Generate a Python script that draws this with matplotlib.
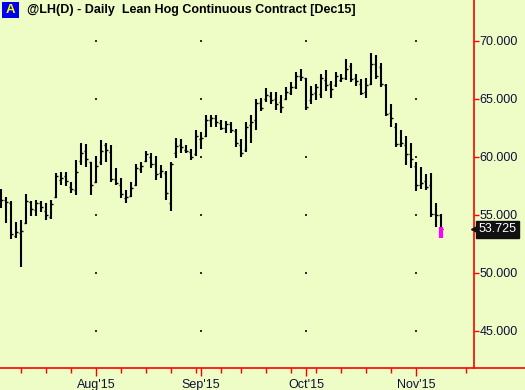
import matplotlib
matplotlib.use("Agg")
import matplotlib.pyplot as plt
from matplotlib.lines import Line2D
from matplotlib.patches import Rectangle

# ---- data (bar index 0 = first trading day of Aug 2015) ----
bar_index = list(range(-19, 70))
highs = [57.2, 56.5, 56.2, 54.4, 54.5, 56.8, 56.2, 56.3, 56.2, 56.0, 56.3, 58.6, 58.7, 58.7, 57.8, 59.7,
         61.2, 61.1, 59.5, 60.1, 61.4, 61.2, 61.0, 59.0, 58.2, 57.1, 57.8, 59.4, 59.5, 60.5, 60.3, 60.1,
         59.3, 58.8, 59.5, 61.6, 61.5, 61.0, 60.7, 62.3, 62.1, 63.6, 63.6, 63.6, 63.2, 63.1, 63.0, 62.4,
         61.5, 63.0, 63.6, 65.0, 65.1, 65.9, 65.6, 65.6, 65.3, 66.0, 66.4, 67.3, 67.6, 66.8, 66.1, 66.3,
         67.1, 67.5, 66.5, 67.3, 67.1, 68.4, 68.1, 67.1, 66.7, 66.8, 68.9, 68.8, 68.1, 66.3, 64.5, 62.9,
         62.3, 61.8, 61.2, 59.5, 59.1, 58.5, 58.6, 56.0, 55.1]
lows = [55.6, 54.3, 52.9, 53.0, 50.5, 54.2, 54.9, 54.9, 55.2, 54.5, 54.6, 56.4, 57.6, 57.5, 56.9, 56.7,
        59.3, 59.1, 56.7, 57.7, 59.3, 59.5, 57.8, 57.6, 56.4, 56.0, 56.5, 57.5, 58.6, 59.5, 59.0, 58.0,
        58.2, 56.3, 55.3, 59.9, 60.3, 60.3, 59.7, 60.1, 60.7, 61.7, 62.6, 62.6, 62.3, 62.0, 62.0, 60.8,
        60.0, 60.4, 61.2, 62.3, 63.9, 64.7, 64.5, 64.0, 63.8, 64.9, 65.3, 65.8, 66.5, 64.0, 64.5, 64.9,
        65.1, 65.7, 65.1, 66.0, 66.4, 66.6, 66.4, 66.1, 65.3, 65.1, 66.2, 66.7, 66.0, 63.5, 62.6, 60.8,
        60.8, 59.3, 59.0, 57.0, 57.2, 57.1, 54.8, 53.9, 53.0]
opens = [56.6, 56.3, 56.0, 53.2, 53.4, 54.3, 56.1, 55.4, 56.0, 55.3, 54.8, 56.5, 58.0, 58.3, 57.4, 57.1,
         59.6, 60.5, 59.5, 57.8, 59.5, 61.0, 60.4, 58.1, 57.6, 56.4, 56.6, 57.6, 58.9, 59.6, 60.0, 59.4,
         58.6, 58.6, 56.0, 60.3, 61.0, 60.6, 60.4, 60.2, 61.5, 61.8, 63.2, 63.3, 62.9, 62.5, 62.8, 62.2,
         61.0, 60.6, 62.7, 63.2, 64.6, 65.0, 65.2, 65.0, 64.7, 65.0, 65.5, 66.0, 67.0, 66.8, 64.9, 65.5,
         65.4, 66.6, 66.3, 66.2, 66.6, 66.8, 67.8, 66.8, 66.3, 65.6, 66.3, 68.0, 67.7, 66.2, 63.8, 62.6,
         61.1, 61.0, 60.2, 59.2, 57.6, 57.9, 57.6, 55.1, 55.0]
closes = [56.3, 56.1, 53.3, 53.5, 53.6, 56.2, 55.5, 56.0, 55.7, 55.0, 55.9, 58.3, 58.2, 57.9, 57.2, 58.7,
          60.3, 59.8, 57.6, 59.2, 60.5, 60.6, 58.1, 57.7, 56.8, 56.5, 57.3, 59.0, 59.2, 60.2, 59.4, 58.5,
          58.8, 56.9, 59.4, 60.9, 60.8, 60.5, 60.0, 61.8, 61.6, 63.2, 63.3, 63.0, 62.5, 62.8, 62.3, 61.2,
          60.3, 62.6, 63.0, 64.6, 64.2, 65.3, 64.9, 64.5, 64.3, 65.6, 66.0, 67.0, 66.9, 64.3, 65.4, 66.0,
          66.8, 66.2, 65.8, 67.0, 66.8, 67.6, 66.7, 66.5, 65.5, 66.2, 68.0, 67.0, 66.3, 63.7, 63.3, 61.1,
          61.2, 60.2, 59.8, 57.6, 57.7, 57.4, 55.1, 55.0, 53.725]
last_price = 53.725
highlight_range = [53.9, 53.0]          # magenta segment on the last bar

price_ticks = [45, 50, 55, 60, 65, 70]
month_labels = ["Aug'15", "Sep'15", "Oct'15", "Nov'15"]
month_index = [0, 21, 42, 64]
week_index = [-15, -10, -5, 5, 10, 15, 20, 25, 29, 34, 39, 44, 49, 54, 59, 74]

title = "@LH(D) - Daily  Lean Hog Continuous Contract [Dec15]"

# ---- figure ----
BG = "#EEFCC6"
RED = "#FF0000"
LBL = "#101038"
W, H = 525, 390
fig = plt.figure(figsize=(W / 100, H / 100), dpi=100, facecolor=BG)
ax = fig.add_axes([0, (H - 368) / H, 474 / W, 368 / H], facecolor=BG)

ax.set_xlim(-19.2, 75.6)
ax.set_ylim(41.78, 73.51)

# OHLC bars
ax.vlines(bar_index, lows, highs, color="black", linewidth=1.5, zorder=3)
ax.hlines(opens, [i - 0.45 for i in bar_index], bar_index, color="black", linewidth=1.0, zorder=3)
ax.hlines(closes, bar_index, [i + 0.45 for i in bar_index], color="black", linewidth=1.0, zorder=3)
ax.vlines([bar_index[-1]], highlight_range[1], highlight_range[0], color="#FF00FF",
          linewidth=3.0, zorder=4)

# grid dots at month / price intersections
gx = [m for m in month_index for _ in price_ticks]
gy = [p for _ in month_index for p in price_ticks]
ax.scatter(gx, gy, s=1.2, color="#303030", marker="s", linewidths=0, zorder=2)

# spines
for s in ["top", "left"]:
    ax.spines[s].set_visible(False)
ax.spines["right"].set_color(RED)
ax.spines["right"].set_linewidth(1.2)
ax.spines["bottom"].set_visible(False)
fig.add_artist(Line2D([0, 1], [(H - 368) / H] * 2, color=RED, linewidth=1.2,
                      transform=fig.transFigure))

# y axis on right
ax.yaxis.tick_right()
ax.set_yticks(price_ticks)
ax.set_yticklabels([f"{p:.3f}" for p in price_ticks], fontsize=9, color=LBL,
                   fontfamily="Liberation Sans")
ax.tick_params(axis="y", direction="out", length=3.5, width=1, color=RED, pad=0.3)

# x axis
ax.set_xticks(month_index)
ax.set_xticklabels(month_labels, fontsize=9, color=LBL, fontfamily="Liberation Sans")
ax.set_xticks(week_index, minor=True)
ax.tick_params(axis="x", which="major", direction="out", length=6, width=1, color=RED, pad=2)
ax.tick_params(axis="x", which="minor", direction="out", length=3.5, width=1, color=RED)

# last price label
ax.annotate(f"{last_price:.3f}", xy=(1.0, last_price), xycoords=("axes fraction", "data"),
            xytext=(3.2, 0), textcoords="offset points", ha="left", va="center",
            fontsize=9, color="white", fontfamily="Liberation Sans",
            bbox=dict(boxstyle="square,pad=0.18", fc="#111111", ec="#111111"),
            annotation_clip=False, zorder=6)
ax.plot([1.0], [last_price], marker="<", markersize=4.5, color="#111111",
        transform=ax.get_yaxis_transform(), clip_on=False, zorder=7)

# title block
fig.add_artist(Rectangle((2 / W, 1 - 18 / H), 17 / W, 16 / H, transform=fig.transFigure,
                         facecolor="#0000EE", edgecolor="none"))
fig.text(10.5 / W, 1 - 10 / H, "A", ha="center", va="center", fontsize=9.5,
         fontweight="bold", color="#FFFF00", fontfamily="Liberation Sans")
fig.text(27 / W, 1 - 10 / H, title, ha="left", va="center", fontsize=9,
         fontweight="bold", color="#000000", fontfamily="Liberation Sans")

fig.savefig("out.png", dpi=100, facecolor=BG)
